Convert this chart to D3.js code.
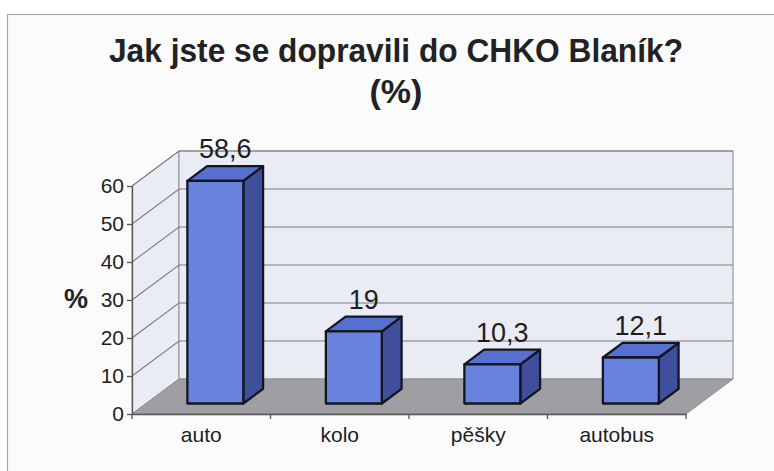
<!DOCTYPE html>
<html>
<head>
<meta charset="utf-8">
<script src="https://cdn.jsdelivr.net/npm/d3@7"></script>
<style>
  html, body { margin: 0; padding: 0; background: #ffffff; }
  svg { display: block; }
  text { font-family: "Liberation Sans", Arial, sans-serif; }
</style>
</head>
<body>
<svg id="chart" width="774" height="471"></svg>
<script>
// ---- data ----
const titleLine1 = "Jak jste se dopravili do CHKO Blaník?";
const titleLine2 = "(%)";
const yAxisTitle = "%";
const categories = ["auto", "kolo", "pěšky", "autobus"];
const values = [58.6, 19, 10.3, 12.1];
const yTicks = [0, 10, 20, 30, 40, 50, 60];

// ---- layout ----
const W = 774, H = 471;
const X0 = 132, X1 = 686;      // front floor edge
const Y0 = 414, Y60 = 186;     // front axis 0 and 60
const DX = 47, DY = -35;       // depth vector of the plot box
const F_FRONT = 0.3, F_BACK = 0.72; // bar depth range (fraction of box depth)
const BAR_FRAC = 0.404;

const svg = d3.select("#chart");

// page / frame
svg.append("rect").attr("x", 0).attr("y", 0).attr("width", W).attr("height", H).attr("fill", "#ffffff");
svg.append("rect").attr("x", 7.5).attr("y", 14.5).attr("width", 820).attr("height", 520)
  .attr("fill", "#fbfbfc").attr("stroke", "#a8a8a8").attr("stroke-width", 1.2);

const x = d3.scaleBand().domain(categories).range([X0, X1]).paddingInner(0).paddingOuter(0);
const y = d3.scaleLinear().domain([0, 60]).range([Y0, Y60]);
const fmt = v => String(v).replace(".", ",");
const P = (px, v, f) => [px + f * DX, y(v) + f * DY];
const pts = arr => arr.map(p => p.join(",")).join(" ");

const plot = svg.append("g");

// side wall (left)
plot.append("polygon")
  .attr("points", pts([P(X0, 0, 0), P(X0, 0, 1), P(X0, 60, 1), P(X0, 60, 0)]))
  .attr("fill", "#eaecf5").attr("stroke", "#9a9a9a").attr("stroke-width", 1);
// back wall
plot.append("polygon")
  .attr("points", pts([P(X0, 0, 1), P(X1, 0, 1), P(X1, 60, 1), P(X0, 60, 1)]))
  .attr("fill", "#eaecf5").attr("stroke", "#9a9a9a").attr("stroke-width", 1.2);

// gridlines
yTicks.filter(t => t > 0).forEach(t => {
  plot.append("polyline")
    .attr("points", pts([P(X0, t, 0), P(X0, t, 1), P(X1, t, 1)]))
    .attr("fill", "none").attr("stroke", "#7c7c80").attr("stroke-width", 1.1);
});

// floor
plot.append("polygon")
  .attr("points", pts([P(X0, 0, 0), P(X1, 0, 0), P(X1, 0, 1), P(X0, 0, 1)]))
  .attr("fill", "#9f9ea3").attr("stroke", "#8c8c90").attr("stroke-width", 1);

// y axis
const yAxis = d3.axisLeft(y).tickValues(yTicks).tickSize(5).tickSizeOuter(0).tickPadding(3);
const gy = svg.append("g").attr("transform", `translate(${X0},0)`).call(yAxis);
gy.select(".domain").attr("stroke", "#555").attr("stroke-width", 1.3);
gy.selectAll(".tick line").attr("stroke", "#555").attr("stroke-width", 1.3);
gy.selectAll(".tick text").attr("font-size", 21).attr("fill", "#1e1e1e")
  .attr("font-family", "'Liberation Sans', Arial, sans-serif");

// x axis (labels at category centres, ticks at boundaries)
const xAxis = d3.axisBottom(x).tickSize(0).tickPadding(13);
const gx = svg.append("g").attr("transform", `translate(0,${Y0})`).call(xAxis);
gx.select(".domain").attr("stroke", "#555").attr("stroke-width", 1.3);
gx.selectAll(".tick text").attr("font-size", 21).attr("fill", "#1e1e1e")
  .attr("font-family", "'Liberation Sans', Arial, sans-serif");
const bounds = categories.map(c => x(c)).concat([x(categories[categories.length - 1]) + x.bandwidth()]);
gx.selectAll(".btick").data(bounds).enter().append("line")
  .attr("x1", d => d).attr("x2", d => d).attr("y1", 0).attr("y2", 5)
  .attr("stroke", "#555").attr("stroke-width", 1.3);

// bars
const bw = x.bandwidth() * BAR_FRAC;
const bars = svg.append("g");
categories.forEach((c, i) => {
  const v = values[i];
  const cx = x(c) + x.bandwidth() / 2;
  const l = cx - bw / 2, r = cx + bw / 2;
  const g = bars.append("g").attr("stroke", "#15151f").attr("stroke-width", 2.3).attr("stroke-linejoin", "round");
  // side
  g.append("polygon")
    .attr("points", pts([P(r, 0, F_FRONT), P(r, v, F_FRONT), P(r, v, F_BACK), P(r, 0, F_BACK)]))
    .attr("fill", "#3f4f9c");
  // top
  g.append("polygon")
    .attr("points", pts([P(l, v, F_FRONT), P(r, v, F_FRONT), P(r, v, F_BACK), P(l, v, F_BACK)]))
    .attr("fill", "#5670d2");
  // front
  g.append("polygon")
    .attr("points", pts([P(l, 0, F_FRONT), P(r, 0, F_FRONT), P(r, v, F_FRONT), P(l, v, F_FRONT)]))
    .attr("fill", "#6883de");
  // value label
  const lp = P(cx, v, (F_FRONT + F_BACK) / 2);
  svg.append("text")
    .attr("x", lp[0]).attr("y", y(v) + F_BACK * DY - 8)
    .attr("text-anchor", "middle").attr("font-size", 27).attr("fill", "#1e1e1e")
    .text(fmt(v));
});

// titles
svg.append("text").attr("x", 396).attr("y", 62).attr("text-anchor", "middle")
  .attr("font-size", 34).attr("font-weight", "bold").attr("fill", "#222")
  .attr("textLength", 574).attr("lengthAdjust", "spacingAndGlyphs")
  .text(titleLine1);
svg.append("text").attr("x", 396).attr("y", 103).attr("text-anchor", "middle")
  .attr("font-size", 34).attr("font-weight", "bold").attr("fill", "#222")
  .text(titleLine2);
svg.append("text").attr("x", 76).attr("y", 308).attr("text-anchor", "middle")
  .attr("font-size", 27).attr("font-weight", "bold").attr("fill", "#222")
  .text(yAxisTitle);
</script>
</body>
</html>
